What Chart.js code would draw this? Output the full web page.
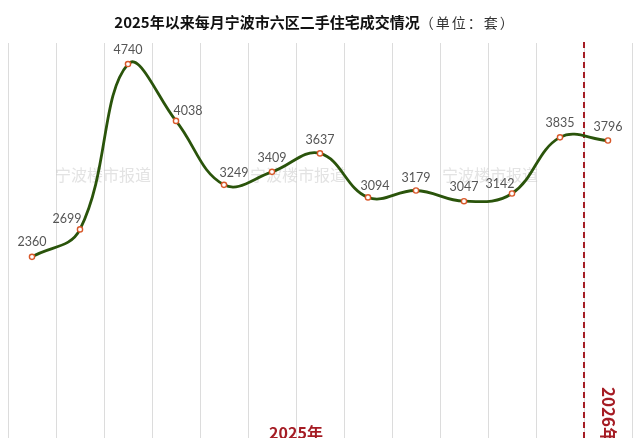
<!DOCTYPE html>
<html>
<head>
<meta charset="utf-8">
<script src="https://cdn.jsdelivr.net/npm/chart.js@4.4.1/dist/chart.umd.min.js"></script>
<style>
  html, body { margin: 0; padding: 0; background: #fff; overflow: hidden; }
  #wrap { position: relative; width: 640px; height: 470px; }
  #title {
    position: absolute; left: 0; top: 9px; width: 630px; text-align: center;
    font-family: "Noto Sans CJK SC", sans-serif; color: #111; white-space: nowrap;
  }
  #title b { font-size: 15px; font-weight: 700; }
  #title span { font-size: 14px; color: #333; letter-spacing: 2px; }
</style>
</head>
<body>
<div id="wrap">
  <canvas id="chart" width="640" height="470"></canvas>
  <div id="title"><b>2025年以来每月宁波市六区二手住宅成交情况</b><span>（单位：套）</span></div>
</div>
<script>
// monthly deals, Jan 2025 .. Jan 2026
const months = ['2025-01', '2025-02', '2025-03', '2025-04', '2025-05', '2025-06', '2025-07',
  '2025-08', '2025-09', '2025-10', '2025-11', '2025-12', '2026-01'];
const deals = [2360, 2699, 4740, 4038, 3249, 3409, 3637, 3094, 3179, 3047, 3142, 3835, 3796];
const yearLabels = ['2025年', '2026年'];
const watermark = '宁波楼市报道';

// label nudges (px) so they sit like the original
const labelDx = [0, -13, 0, 12, 10, 0, 0, 7, 0, 0, -12, 0, 0];
const labelDy = [-15, -10, -14, -10, -12, -14, -13, -11, -13, -14, -10, -14, -14];

const RED = '#a51c24';

const decorPlugin = {
  id: 'decor',
  beforeDatasetsDraw(chart) {
    const ctx = chart.ctx;
    const x = chart.scales.x;
    const area = chart.chartArea;
    ctx.save();
    // watermark
    ctx.font = '16px "Noto Sans CJK SC"';
    ctx.fillStyle = 'rgba(200,200,200,0.5)';
    ctx.textAlign = 'left';
    ctx.textBaseline = 'middle';
    [55, 250, 442].forEach(px => ctx.fillText(watermark, px, 175));
    // dashed divider between 2025 and 2026
    const split = (x.getPixelForValue(11) + x.getPixelForValue(12)) / 2;
    ctx.strokeStyle = RED;
    ctx.lineWidth = 2;
    ctx.setLineDash([6, 4]);
    ctx.beginPath();
    ctx.moveTo(split, area.top - 1);
    ctx.lineTo(split, area.bottom + 30);
    ctx.stroke();
    ctx.setLineDash([]);
    // year labels
    ctx.fillStyle = RED;
    ctx.font = 'bold 16px "Noto Sans CJK SC"';
    ctx.textAlign = 'center';
    ctx.textBaseline = 'top';
    const left = x.getPixelForValue(0) - 24;
    ctx.fillText(yearLabels[0], (left + split) / 2, 425);
    ctx.font = 'bold 17px "Noto Sans CJK SC"';
    ctx.translate(x.getPixelForValue(12), 387);
    ctx.rotate(Math.PI / 2);
    ctx.textAlign = 'left';
    ctx.textBaseline = 'middle';
    ctx.fillText(yearLabels[1], 0, 0);
    ctx.restore();
  },
  afterDatasetsDraw(chart) {
    const ctx = chart.ctx;
    const meta = chart.getDatasetMeta(0);
    ctx.save();
    ctx.font = '12.5px Lato';
    ctx.fillStyle = '#555';
    ctx.textAlign = 'center';
    ctx.textBaseline = 'middle';
    meta.data.forEach((pt, i) => {
      ctx.fillText(deals[i], pt.x + labelDx[i], pt.y + labelDy[i]);
    });
    ctx.restore();
  }
};

new Chart(document.getElementById('chart'), {
  type: 'line',
  data: {
    labels: months,
    datasets: [{
      data: deals,
      borderColor: '#2a540b',
      borderWidth: 2.8,
      tension: 0.4,
      pointRadius: 2.6,
      pointBorderWidth: 1.4,
      pointBorderColor: '#d8582a',
      pointBackgroundColor: '#fff',
      clip: false
    }]
  },
  options: {
    responsive: false,
    animation: false,
    devicePixelRatio: 1,
    layout: { padding: { left: 8, right: 8, top: 43, bottom: 22 } },
    plugins: { legend: { display: false }, tooltip: { enabled: false } },
    scales: {
      x: {
        offset: true,
        grid: { offset: true, color: '#dcdcdc', drawTicks: false },
        ticks: { display: false },
        border: { display: false }
      },
      y: { display: false, min: 0, max: 5000 }
    }
  },
  plugins: [decorPlugin]
});
</script>
</body>
</html>
